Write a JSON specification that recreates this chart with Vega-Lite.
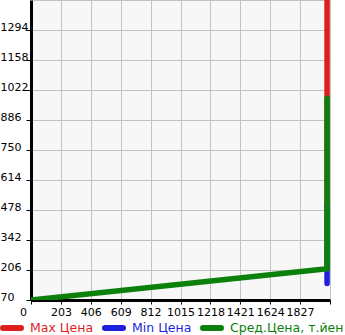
{
  "$schema": "https://vega.github.io/schema/vega-lite/v6.json",
  "width": 299,
  "height": 300,
  "autosize": {"type": "none"},
  "padding": {"left": 31, "top": 0, "right": 15, "bottom": 35},
  "background": "white",
  "config": {
    "view": {"fill": "#f7f7f7", "stroke": "#c3c3c3", "strokeWidth": 1},
    "font": "DejaVu Sans"
  },
  "data": {
    "values": [
      {"s": "Max Цена", "x": 2010, "y": 1450, "o": 1},
      {"s": "Max Цена", "x": 2010, "y": 500, "o": 2},
      {"s": "Min Цена", "x": 2010, "y": 500, "o": 1},
      {"s": "Min Цена", "x": 2010, "y": 145, "o": 2},
      {"s": "Сред.Цена, т.йен", "x": 0, "y": 70, "o": 1},
      {"s": "Сред.Цена, т.йен", "x": 2010, "y": 212, "o": 2},
      {"s": "Сред.Цена, т.йен", "x": 2010, "y": 985, "o": 3}
    ]
  },
  "mark": {"type": "line", "strokeWidth": 5.5, "strokeCap": "round", "strokeJoin": "round", "clip": true},
  "encoding": {
    "x": {
      "field": "x", "type": "quantitative",
      "scale": {"domain": [0, 2030], "nice": false, "zero": false},
      "axis": {
        "title": null,
        "values": [0, 203, 406, 609, 812, 1015, 1218, 1421, 1624, 1827, 2030],
        "format": "d",
        "labelExpr": "datum.value == 2030 ? '' : datum.label",
        "domainColor": "black", "domainWidth": 3,
        "tickColor": "black", "tickSize": 4, "tickWidth": 1,
        "labelFontSize": 11, "labelColor": "black", "labelPadding": 2,
        "labelFlush": false, "labelOverlap": false,
        "labelOffset": {"condition": {"test": "datum.value == 0", "value": -8}, "value": 0},
        "gridColor": "#c3c3c3", "gridWidth": 1, "gridOpacity": 1
      }
    },
    "y": {
      "field": "y", "type": "quantitative",
      "scale": {"domain": [70, 1430], "nice": false, "zero": false},
      "axis": {
        "title": null,
        "values": [70, 206, 342, 478, 614, 750, 886, 1022, 1158, 1294],
        "format": "d",
        "domainColor": "black", "domainWidth": 3,
        "tickColor": "black", "tickSize": 5, "tickWidth": 1,
        "labelFontSize": 11, "labelColor": "black", "labelPadding": 26,
        "labelAlign": "left", "labelBaseline": "alphabetic",
        "labelFlush": false, "labelOverlap": false,
        "gridColor": "#c3c3c3", "gridWidth": 1, "gridOpacity": 1
      }
    },
    "color": {
      "field": "s", "type": "nominal",
      "scale": {
        "domain": ["Max Цена", "Min Цена", "Сред.Цена, т.йен"],
        "range": ["#dd1f1f", "#1f1fdd", "#0b800b"]
      },
      "legend": {
        "title": null,
        "orient": "none",
        "legendX": -31,
        "legendY": 316,
        "direction": "horizontal",
        "symbolType": "stroke",
        "symbolSize": 324,
        "symbolStrokeWidth": 6,
        "labelFontSize": 12.5,
        "labelOffset": 6,
        "columnPadding": -1,
        "padding": 0,
        "labelLimit": 300,
        "encode": {
          "symbols": {"update": {"strokeCap": {"value": "round"}}},
          "labels": {"update": {"fill": {"scale": "color", "field": "value"}}}
        }
      }
    },
    "order": {"field": "o"}
  }
}
